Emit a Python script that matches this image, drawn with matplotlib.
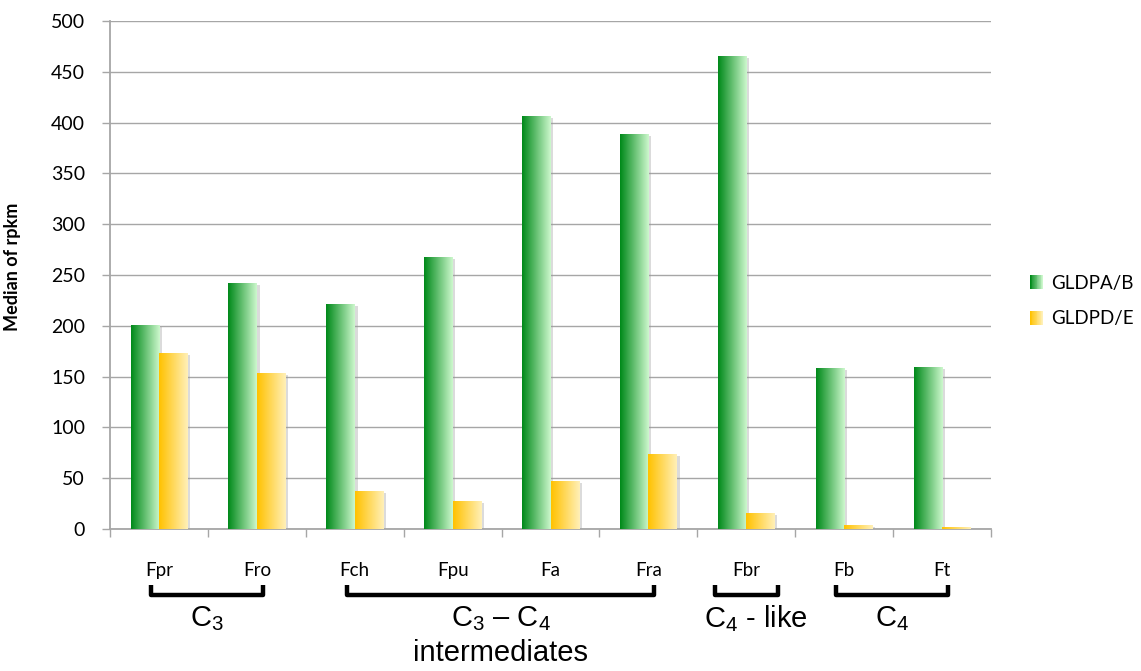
"""
Median rpkm of GLDPA/B and GLDPD/E across Flaveria species,
grouped by photosynthesis type (C3, C3-C4, C4-like, C4)
"""

import numpy as np
import matplotlib

matplotlib.use("Agg")
import matplotlib.pyplot as plt
from matplotlib.patches import Rectangle, Patch
from matplotlib.legend_handler import HandlerBase
from matplotlib.transforms import blended_transform_factory
import matplotlib.patheffects as pe

species = ["Fpr", "Fro", "Fch", "Fpu", "Fa", "Fra", "Fbr", "Fb", "Ft"]
gldpa_b = [200, 242, 221, 267, 406, 388, 465, 158, 159]
gldpd_e = [173, 153, 37, 27, 47, 73, 15, 3, 1]
series_names = ["GLDPA/B", "GLDPD/E"]

# photosynthesis groups: label, first species, last species
groups = [
    (r"C$_\mathregular{3}$", 0, 1),
    (r"C$_\mathregular{3}$ – C$_\mathregular{4}$", 2, 5),
    (r"C$_\mathregular{4}$ - like", 6, 6),
    (r"C$_\mathregular{4}$", 7, 8),
]

GREEN = ((0.0, 0.54, 0.10), (0.80, 0.97, 0.80))
YELLOW = ((1.0, 0.76, 0.0), (1.0, 0.94, 0.72))
GRID = "#a6a6a6"

plt.rcParams["font.family"] = ["Lato", "DejaVu Sans"]
plt.rcParams["mathtext.fontset"] = "custom"
plt.rcParams["mathtext.rm"] = "Liberation Sans"


def gradient(c0, c1, n=64):
    t = np.linspace(0, 1, n)[None, :, None]
    return (1 - t) * np.array(c0) + t * np.array(c1)


def gradient_bar(ax, bar, colors):
    x, y = bar.get_x(), bar.get_y()
    w, h = bar.get_width(), bar.get_height()
    ax.imshow(gradient(*colors), extent=(x, x + w, y, y + h), aspect="auto",
              origin="lower", zorder=3, interpolation="bilinear")


class GradientHandler(HandlerBase):
    def __init__(self, colors):
        super().__init__()
        self.colors = colors

    def create_artists(self, legend, orig_handle, xdescent, ydescent,
                       width, height, fontsize, trans):
        n = 16
        img = gradient(*self.colors, n=n)[0]
        out = []
        for k in range(n):
            out.append(Rectangle((-xdescent + k * width / n, -ydescent),
                                 width / n * 1.1, height, facecolor=img[k],
                                 edgecolor="none", transform=trans))
        return out


def main():
    fig = plt.figure(figsize=(11.41, 6.71), dpi=100)
    ax = fig.add_axes([110 / 1141, 142 / 671, 881 / 1141, 508 / 671])

    x = np.arange(len(species)) + 0.5
    w = 0.29
    shadow = [pe.SimplePatchShadow(offset=(2, -1), shadow_rgbFace="#999999", alpha=0.35),
              pe.Normal()]
    for vals, colors, off in [(gldpa_b, GREEN, -w / 2), (gldpd_e, YELLOW, w / 2)]:
        bars = ax.bar(x + off, vals, width=w, color=colors[0], zorder=2,
                      path_effects=shadow)
        for b in bars:
            gradient_bar(ax, b, colors)

    ax.set_xlim(0, len(species))
    ax.set_ylim(0, 500)
    ax.set_yticks(np.arange(0, 501, 50))
    ax.yaxis.grid(True, color=GRID, linewidth=1.0)
    ax.set_axisbelow(True)

    ax.set_xticks(np.arange(len(species) + 1))
    ax.set_xticklabels([])
    ax.set_xticks(x, minor=True)
    ax.set_xticklabels(species, minor=True)
    ax.tick_params(axis="x", which="major", length=6, width=1.0, color=GRID)
    ax.tick_params(axis="x", which="minor", length=0, pad=24, labelsize=13.5)
    ax.tick_params(axis="y", length=6, width=1.0, color=GRID, pad=12, labelsize=14)

    for s in ["top", "right"]:
        ax.spines[s].set_visible(False)
    for s in ["left", "bottom"]:
        ax.spines[s].set_color(GRID)
        ax.spines[s].set_linewidth(1.3)

    ax.set_ylabel("Median of rpkm", fontweight="bold", fontsize=13)
    ax.yaxis.set_label_coords((21 - 110) / 881, (529 - 267) / 508)

    handles = [Patch(label=series_names[0]), Patch(label=series_names[1])]
    fig.legend(handles=handles, loc="center left",
               bbox_to_anchor=(1030 / 1141, (671 - 301) / 671),
               frameon=False, fontsize=13.5, borderpad=0, borderaxespad=0,
               handlelength=0.7, handleheight=0.75, handletextpad=0.4,
               labelspacing=1.0,
               handler_map={handles[0]: GradientHandler(GREEN),
                            handles[1]: GradientHandler(YELLOW)})

    # brackets below the species names
    tr = blended_transform_factory(ax.transData, fig.transFigure)
    y_hook, y_bar = (671 - 585) / 671, (671 - 595) / 671
    y_text = (671 - 619) / 671
    for label, i0, i1 in groups:
        if i0 == i1:
            left, right = i0 + 0.18, i1 + 0.82
        else:
            left, right = i0 + 0.42, i1 + 0.56
        ax.plot([left, left, right, right], [y_hook, y_bar, y_bar, y_hook],
                color="black", lw=3.2, transform=tr, clip_on=False,
                solid_joinstyle="round", solid_capstyle="butt")
        xt = (left + right) / 2 + (0.1 if i0 == i1 else 0)
        ax.text(xt, y_text, label, transform=tr, ha="center", va="center",
                fontsize=21, family="Liberation Sans")
    ax.text((2 + 0.42 + 5 + 0.56) / 2, (671 - 653) / 671, "intermediates",
            transform=tr, ha="center", va="center", fontsize=21,
            family="Liberation Sans")

    fig.savefig("out.png", dpi=100)


if __name__ == "__main__":
    main()
